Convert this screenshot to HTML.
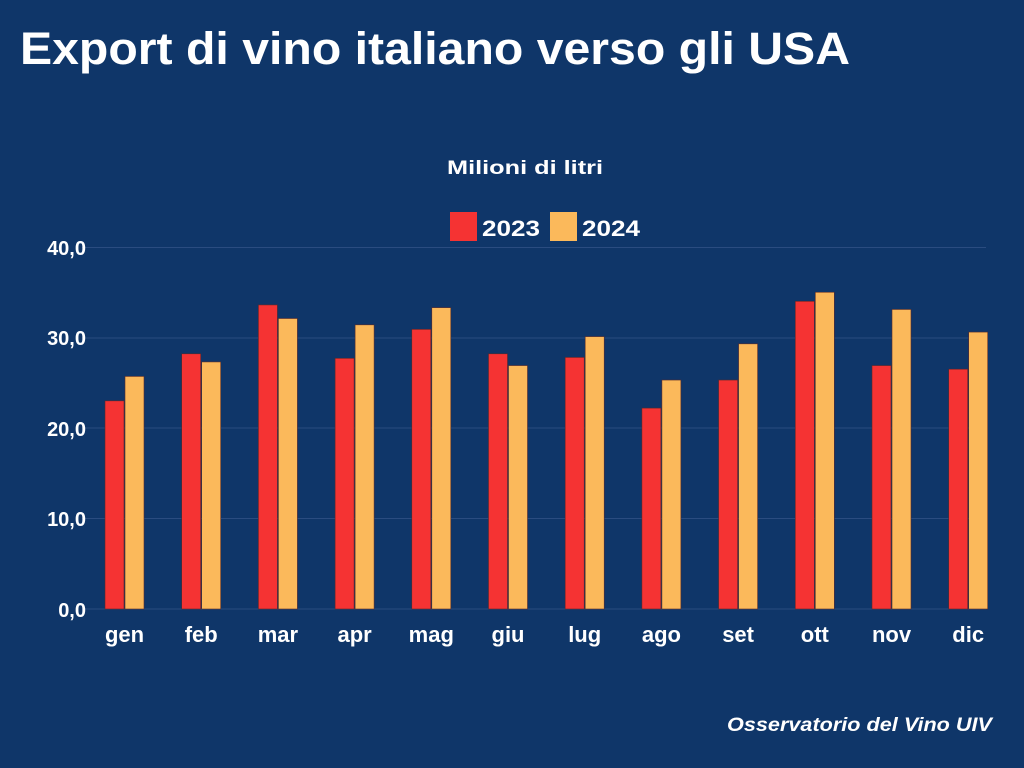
<!DOCTYPE html>
<html><head><meta charset="utf-8"><style>
html,body{margin:0;padding:0;background:#0f3669;}
svg{display:block;font-family:"Liberation Sans",sans-serif;font-weight:bold;}
</style></head><body>
<svg width="1024" height="768" viewBox="0 0 1024 768" xmlns="http://www.w3.org/2000/svg">
<rect width="1024" height="768" fill="#0f3669"/>
<text x="20" y="64" font-size="45" fill="#fff" textLength="830" lengthAdjust="spacingAndGlyphs">Export di vino italiano verso gli USA</text>
<text x="525" y="174" font-size="19" fill="#fff" text-anchor="middle" textLength="156" lengthAdjust="spacingAndGlyphs">Milioni di litri</text>
<rect x="450" y="212" width="27" height="29" fill="#f53333"/>
<text x="482" y="236" font-size="22" fill="#fff" textLength="58" lengthAdjust="spacingAndGlyphs">2023</text>
<rect x="550" y="212" width="27" height="29" fill="#fbb95b"/>
<text x="582" y="236" font-size="22" fill="#fff" textLength="58" lengthAdjust="spacingAndGlyphs">2024</text>
<g stroke="#2a4c80" stroke-width="1">
<line x1="82" y1="247.5" x2="986" y2="247.5"/>
<line x1="82" y1="338" x2="986" y2="338"/>
<line x1="82" y1="428" x2="986" y2="428"/>
<line x1="82" y1="518.5" x2="986" y2="518.5"/>
<line x1="82" y1="609" x2="986" y2="609"/>
</g>
<g font-size="20" fill="#fff" text-anchor="end">
<text x="86" y="255">40,0</text>
<text x="86" y="345">30,0</text>
<text x="86" y="436">20,0</text>
<text x="86" y="526">10,0</text>
<text x="86" y="617">0,0</text>
</g>
<g id="bars"></g>
<g id="labels" font-size="22" fill="#fff" text-anchor="middle"></g>
<text x="992" y="731" font-size="19" font-style="italic" fill="#fff" text-anchor="end" textLength="265" lengthAdjust="spacingAndGlyphs">Osservatorio del Vino UIV</text>
<script>
var m=["gen","feb","mar","apr","mag","giu","lug","ago","set","ott","nov","dic"];
var a=[23.0,28.2,33.6,27.7,30.9,28.2,27.8,22.2,25.3,34.0,26.9,26.5];
var b=[25.7,27.3,32.1,31.4,33.3,26.9,30.1,25.3,29.3,35.0,33.1,30.6];
var ns="http://www.w3.org/2000/svg",g=document.getElementById("bars"),l=document.getElementById("labels");
function r(x,v,c){var e=document.createElementNS(ns,"rect");var h=v*9.05;e.setAttribute("x",x);e.setAttribute("y",609-h);e.setAttribute("width",19);e.setAttribute("height",h);e.setAttribute("fill",c);e.setAttribute("stroke","#5a2a2a");e.setAttribute("stroke-width","0.6");g.appendChild(e);}
for(var i=0;i<12;i++){var x=105+i*76.7;r(x,a[i],"#f53333");r(x+20,b[i],"#fbb95b");
var t=document.createElementNS(ns,"text");t.setAttribute("x",x+19.5);t.setAttribute("y",642);t.textContent=m[i];l.appendChild(t);}
</script>
</svg>
</body></html>
